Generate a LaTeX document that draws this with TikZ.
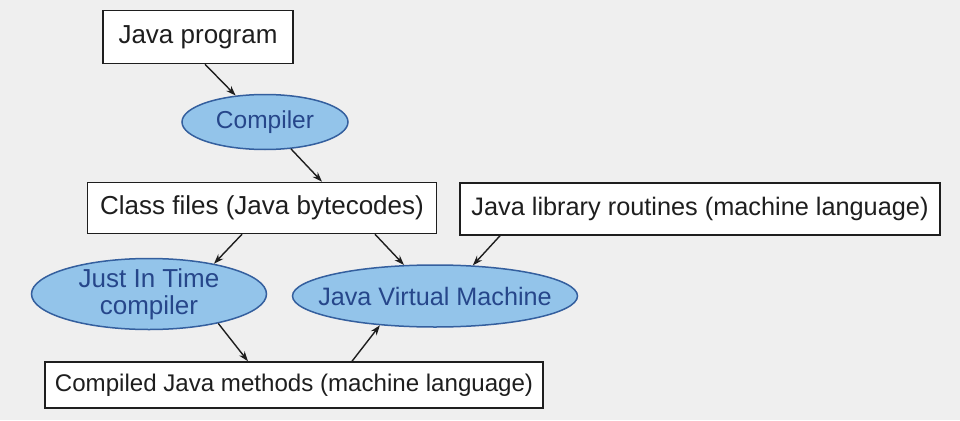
\documentclass[tikz,border=0pt]{standalone}
\usepackage{fontspec}
\setmainfont{Liberation Sans}
\usetikzlibrary{shapes.geometric,arrows.meta}
\definecolor{bg}{HTML}{EFEFEF}
\definecolor{ellfill}{HTML}{93C4EA}
\definecolor{elldraw}{HTML}{345F9E}
\definecolor{elltext}{HTML}{26468A}
\definecolor{ink}{HTML}{1E1E1E}
\tikzset{
  box/.style={draw=ink, line width=1.5pt, fill=white, text=ink, inner sep=0pt, font=\fontsize{26}{28}\selectfont, align=center},
  oval/.style={ellipse, draw=elldraw, line width=1.5pt, fill=ellfill, text=elltext, inner sep=0pt, font=\fontsize{26}{28}\selectfont, align=center},
  conn/.style={draw=ink, line width=1.4pt, -{Stealth[length=10pt,width=7pt]}}
}
\begin{document}
\begin{tikzpicture}[x=1pt,y=-1pt]
\fill[bg] (0,0) rectangle (960,420);
\useasboundingbox (0,0) rectangle (960,420);
\node[box, minimum width=190pt, minimum height=53pt] (jp) at (198,37) {Java program};
\node[oval, minimum width=166pt, minimum height=55pt, font=\fontsize{24.5}{28}\selectfont] (comp) at (265,122) {Compiler};
\node[box, minimum width=349pt, minimum height=51pt] (cf) at (262,208) {Class files (Java bytecodes)};
\node[box, minimum width=480pt, minimum height=52pt, font=\fontsize{25.3}{28}\selectfont] (lib) at (700,209) {Java library routines (machine language)};
\node[oval, minimum width=235pt, minimum height=71pt, inner ysep=-3pt] (jit) at (149,294) {Just In Time\\[-1pt]compiler};
\node[oval, minimum width=285pt, minimum height=62pt, inner xsep=-16pt, font=\fontsize{25.2}{28}\selectfont] (jvm) at (435,296) {Java Virtual Machine};
\node[box, minimum width=498pt, minimum height=46pt, font=\fontsize{24.1}{28}\selectfont] (cjm) at (294,385) {Compiled Java methods (machine language)};
\draw[conn] (jp.south -| 205,0) -- (comp.138);
\draw[conn] (comp.-46) -- (cf.north -| 322,0);
\draw[conn] (cf.south -| 242,0) -- (jit.25);
\draw[conn] (cf.south -| 375,0) -- (jvm.135);
\draw[conn] (lib.south -| 500,0) -- (jvm.39);
\draw[conn] (jit.-23) -- (cjm.north -| 248,0);
\draw[conn] (cjm.north -| 352,0) -- (jvm.-152);
\end{tikzpicture}
\end{document}
